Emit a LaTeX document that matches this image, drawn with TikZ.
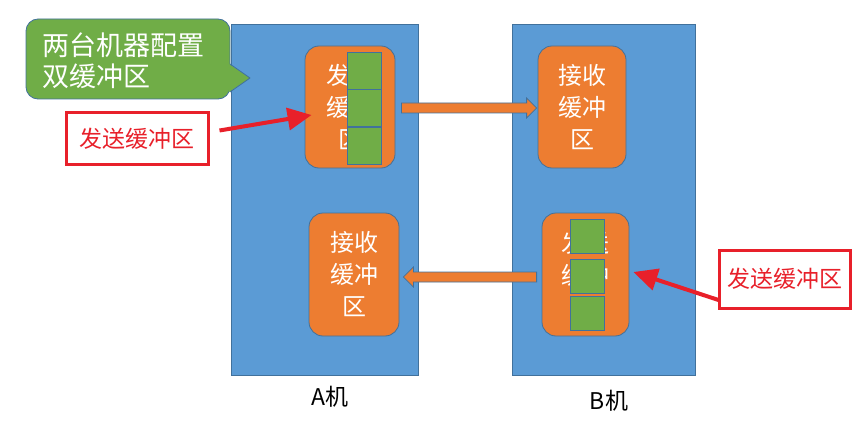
\documentclass[tikz,border=0pt]{standalone}
\usepackage{fontspec}
\setmainfont{Noto Sans CJK SC}
\usetikzlibrary{arrows.meta,calc}
\definecolor{mblue}{HTML}{5B9BD5}
\definecolor{mborder}{HTML}{41719C}
\definecolor{morange}{HTML}{ED7D31}
\definecolor{mgreen}{HTML}{70AD47}
\definecolor{mred}{HTML}{E8202A}
\tikzset{
  machine/.style={draw=mborder,fill=mblue,line width=0.8pt,inner sep=0pt},
  buffer/.style={draw=mborder,fill=morange,line width=0.8pt,rounded corners=14pt,inner sep=0pt,text=white,align=center,font=\fontsize{24}{32}\selectfont},
  slot/.style={draw=mborder,fill=mgreen,line width=1pt,inner sep=0pt,minimum width=34pt},
  blockarrow/.style={draw=mborder,fill=morange,line width=0.8pt,line join=miter},
  redbox/.style={draw=mred,fill=white,line width=3pt,inner sep=0pt,text=mred,font=\fontsize{23}{26}\selectfont},
  redarrow/.style={draw=mred,line width=4pt,-{Triangle[length=24pt,width=22pt]}},
  mlabel/.style={font=\fontsize{23}{26}\selectfont,text=black}
}
\begin{document}
\begin{tikzpicture}[x=1pt,y=-1pt]
\useasboundingbox (0,0) rectangle (855,428);
% machines
\node[machine,minimum width=187pt,minimum height=351pt] (A) at (324.5,199.5) {};
\node[machine,minimum width=183pt,minimum height=351pt] (B) at (603.5,199.5) {};
\node[mlabel] (Alab) at (330,397) {A机};
\node[mlabel] (Blab) at (609,401) {B机};
% buffers
\node[buffer,minimum width=90pt,minimum height=122pt] (sendA) at (350,107) {发送\\缓冲\\区};
\node[buffer,minimum width=88pt,minimum height=122pt] (recvB) at (582,107) {接收\\缓冲\\区};
\node[buffer,minimum width=90pt,minimum height=123pt] (recvA) at (354,274.5) {接收\\缓冲\\区};
\node[buffer,minimum width=87pt,minimum height=123pt] (sendB) at (585.5,274.5) {发送\\缓冲\\区};
% slots
\node[slot,minimum height=37pt] (a1) at (364,71) {};
\node[slot,minimum height=37pt] (a2) at (364,108.5) {};
\node[slot,minimum height=37pt] (a3) at (364,146) {};
\node[slot,minimum height=34pt] (b1) at (587,236) {};
\node[slot,minimum height=34pt] (b2) at (587,276) {};
\node[slot,minimum height=34pt] (b3) at (587,313) {};
% block arrows (A send -> B receive)
\coordinate (t1) at ($(sendA.east)+(6,1)$);
\coordinate (h1) at ($(recvB.west)+(-1,1)$);
\draw[blockarrow] ($(t1)+(0,-5)$) -- ($(h1)+(-10,-5)$) -- ($(h1)+(-10,-10)$) -- (h1)
  -- ($(h1)+(-10,10)$) -- ($(h1)+(-10,5)$) -- ($(t1)+(0,5)$) -- cycle;
% block arrow (B send -> A receive)
\coordinate (t2) at ($(sendB.west)+(-5,2.5)$);
\coordinate (h2) at ($(recvA.east)+(4,2.5)$);
\draw[blockarrow] ($(t2)+(0,-5)$) -- ($(h2)+(10,-5)$) -- ($(h2)+(10,-10)$) -- (h2)
  -- ($(h2)+(10,10)$) -- ($(h2)+(10,5)$) -- ($(t2)+(0,5)$) -- cycle;
% callout
\node[draw=mborder,fill=mgreen,line width=0.8pt,rounded corners=12pt,minimum width=204pt,minimum height=80pt,inner sep=0pt] (call) at (128,59) {};
\fill[mgreen] (229,64) -- (250,78) -- (229,92) -- cycle;
\draw[mborder,line width=0.8pt,line join=round] (230,64) -- (250,78) -- (230,92);
\node[anchor=west,align=left,text=white,font=\fontsize{27}{31}\selectfont,inner sep=0pt] (calltext) at (42,60.5) {两台机器配置\\双缓冲区};
% red labels
\node[redbox,minimum width=142pt,minimum height=51pt] (redL) at (137,138.5) {发送缓冲区};
\node[redbox,minimum width=131pt,minimum height=58pt] (redR) at (784.5,279) {发送缓冲区};
\draw[redarrow] ($(redL.east)+(10,-8)$) -- ($(sendA.west)+(7,8)$);
\draw[redarrow] ($(redR.west)+(1,21)$) -- ($(sendB.east)+(4,-2.5)$);
\end{tikzpicture}
\end{document}
